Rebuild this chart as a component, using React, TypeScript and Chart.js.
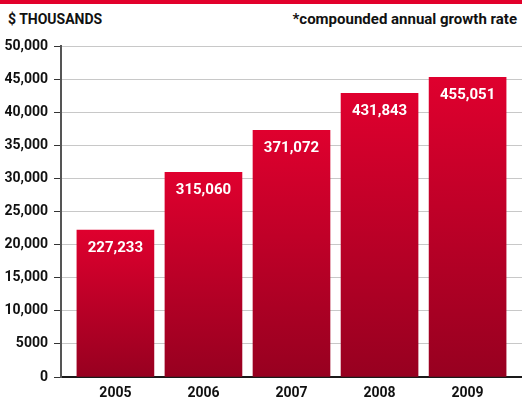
import React, { useEffect, useRef } from 'react';
import { Chart, registerables } from 'chart.js';

Chart.register(...registerables);

const years = ['2005', '2006', '2007', '2008', '2009'];
const barValues = [22200, 30900, 37250, 42850, 45250];
const barLabels = ['227,233', '315,060', '371,072', '431,843', '455,051'];
const yTicks = [0, 5000, 10000, 15000, 20000, 25000, 30000, 35000, 40000, 45000, 50000];
const yTickLabels = ['0', '5000', '10,000', '15,000', '20,000', '25,000', '30,000', '35,000', '40,000', '45,000', '50,000'];

const FONT = 'Roboto, "Open Sans", sans-serif';

const barLabelPlugin = {
  id: 'barLabels',
  afterDatasetsDraw(chart: any) {
    const meta = chart.getDatasetMeta(0);
    const ctx = chart.ctx;
    ctx.save();
    ctx.fillStyle = '#ffffff';
    ctx.font = `bold 15px ${FONT}`;
    ctx.textAlign = 'center';
    ctx.textBaseline = 'middle';
    meta.data.forEach((bar: any, i: number) => {
      ctx.fillText(barLabels[i], bar.x, bar.y + 18);
    });
    ctx.restore();
  },
};

export default function App() {
  const ref = useRef<HTMLCanvasElement | null>(null);
  useEffect(() => {
    if (!ref.current) return;
    const chart = new Chart(ref.current, {
      type: 'bar',
      data: {
        datasets: [
          {
            data: barValues.map((v, i) => ({ x: i, y: v })),
            barThickness: 77,
            borderWidth: 0,
            backgroundColor: (c: any) => {
              const ch = c.chart;
              const area = ch.chartArea;
              if (!area || c.type !== 'data') return '#c8002a';
              const top = ch.scales.y.getPixelForValue(barValues[c.dataIndex]);
              const g = ch.ctx.createLinearGradient(0, top, 0, area.bottom);
              g.addColorStop(0, '#df002e');
              g.addColorStop(1, '#970020');
              return g;
            },
          },
        ],
      },
      options: {
        responsive: false,
        animation: false,
        devicePixelRatio: 1,
        layout: { padding: { top: 46, right: 0, left: 0, bottom: 0 } },
        plugins: { legend: { display: false }, tooltip: { enabled: false }, title: { display: false } },
        scales: {
          x: {
            type: 'linear',
            offset: false,
            min: -0.618,
            max: 4.618,
            grid: { display: false, drawTicks: false },
            border: { display: true, color: '#1a1a1a', width: 2 },
            afterBuildTicks: (axis: any) => {
              axis.ticks = years.map((_, i) => ({ value: i }));
            },
            afterFit: (axis: any) => {
              axis.height = 21;
            },
            ticks: {
              autoSkip: false,
              maxRotation: 0,
              padding: 8,
              color: '#111',
              font: { family: FONT, size: 14, weight: 'bold' },
              callback: (v: any) => years[Math.round(v)] ?? '',
            },
          },
          y: {
            min: 0,
            max: 50000,
            afterBuildTicks: (axis: any) => {
              axis.ticks = yTicks.map((v) => ({ value: v }));
            },
            afterFit: (axis: any) => {
              axis.width = 61;
            },
            grid: { color: '#c8c8c8', lineWidth: 1, tickColor: '#333', tickLength: 7, drawTicks: true },
            border: { display: true, color: '#555', width: 2 },
            ticks: {
              padding: 6,
              color: '#111',
              font: { family: FONT, size: 14, weight: 'bold' },
              callback: (_v: any, i: number) => yTickLabels[i],
            },
          },
        },
      } as any,
      plugins: [barLabelPlugin],
    });
    return () => chart.destroy();
  }, []);

  return (
    <div style={{ position: 'fixed', left: 0, top: 0, width: 522, height: 398, background: '#fff', overflow: 'hidden' }}>
      <div style={{ position: 'absolute', left: 0, top: 0, width: 522, height: 4, background: '#e2002b' }} />
      <div
        style={{
          position: 'absolute',
          left: 8,
          top: 10,
          font: `bold 14px ${FONT}`,
          color: '#111',
          lineHeight: '18px',
        }}
      >
        $ THOUSANDS
      </div>
      <div
        style={{
          position: 'absolute',
          right: 5,
          top: 10,
          font: `bold 15px ${FONT}`,
          color: '#111',
          lineHeight: '18px',
        }}
      >
        *compounded annual growth rate
      </div>
      <canvas ref={ref} width={522} height={398} style={{ position: 'absolute', left: 0, top: 0 }} />
    </div>
  );
}
